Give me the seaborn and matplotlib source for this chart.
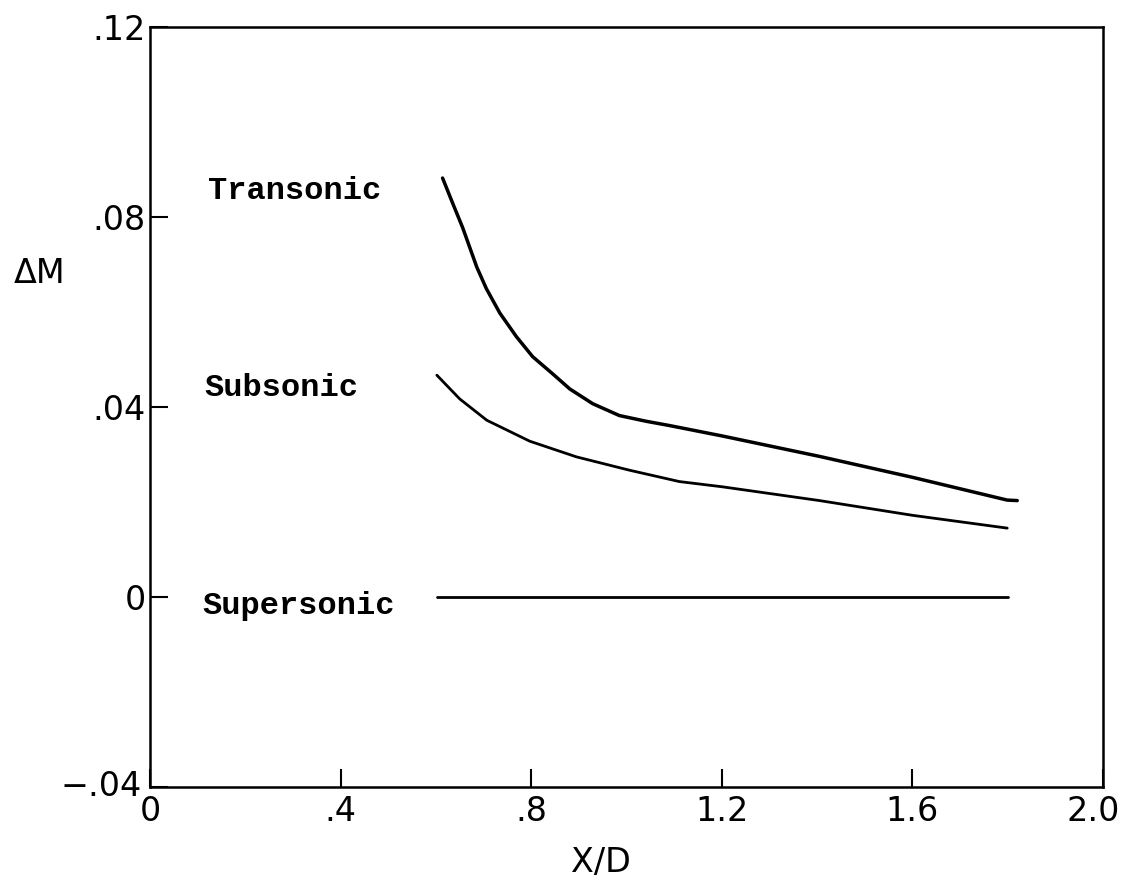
import numpy as np
import pandas as pd
import matplotlib
matplotlib.use("Agg")
import matplotlib.pyplot as plt
import matplotlib.transforms as mtransforms
import seaborn as sns

# ---- data ----
transonic_x = [0.614, 0.636, 0.656, 0.671, 0.686, 0.706, 0.734, 0.769, 0.803, 0.846,
               0.881, 0.929, 0.985, 1.041, 1.090, 1.201, 1.405, 1.600, 1.799, 1.82]
transonic_y = [0.0882, 0.0827, 0.0778, 0.0736, 0.0694, 0.0649, 0.0598, 0.0548, 0.0506, 0.0469,
               0.0438, 0.0407, 0.0382, 0.0370, 0.0361, 0.0339, 0.0296, 0.0252, 0.0204, 0.0203]

subsonic_x = [0.602, 0.650, 0.707, 0.797, 0.895, 1.006, 1.111, 1.201, 1.405, 1.600, 1.799]
subsonic_y = [0.0467, 0.0417, 0.0372, 0.0328, 0.0295, 0.0267, 0.0243, 0.0232, 0.0203, 0.0172, 0.0145]

supersonic_x = [0.602, 1.0, 1.4, 1.80]
supersonic_y = [0.0, 0.0, 0.0, 0.0]

series_names = ["Transonic", "Subsonic", "Supersonic"]
label_x = [0.122, 0.115, 0.109]
label_y = [0.0855, 0.0440, -0.0019]

xticks = [0, 0.4, 0.8, 1.2, 1.6, 2.0]
xtick_labels = ["0", ".4", ".8", "1.2", "1.6", "2.0"]
yticks = [-0.04, 0, 0.04, 0.08, 0.12]
ytick_labels = ["\u2212.04", "0", ".04", ".08", ".12"]

df = pd.concat([
    pd.DataFrame({"x": transonic_x, "y": transonic_y, "s": "Transonic"}),
    pd.DataFrame({"x": subsonic_x, "y": subsonic_y, "s": "Subsonic"}),
    pd.DataFrame({"x": supersonic_x, "y": supersonic_y, "s": "Supersonic"}),
], ignore_index=True)

sns.set_theme(style="ticks")
plt.rcParams["font.family"] = ["DejaVu Sans"]
plt.rcParams["text.color"] = "black"
plt.rcParams["axes.labelcolor"] = "black"

L, R, T, B = 150, 1103, 27, 787
fig = plt.figure(figsize=(11.29, 8.81), dpi=100)
ax = fig.add_axes([L/1129, 1-B/881, (R-L)/1129, (B-T)/881])

sns.lineplot(data=df, x="x", y="y", hue="s", palette=["black"]*3,
             legend=False, ax=ax, linewidth=2.0, sort=True, estimator=None)
ax.lines[0].set_linewidth(2.5)

ax.set_xlim(0, 2.0)
ax.set_ylim(-0.04, 0.12)
ax.set_xticks(xticks)
ax.set_xticklabels(xtick_labels)
ax.set_yticks(yticks)
ax.set_yticklabels(ytick_labels)
ax.tick_params(axis="both", direction="in", length=13, width=1.5,
               labelsize=24, colors="black")
ax.tick_params(axis="x", pad=6)
ax.tick_params(axis="y", pad=3)
for sp in ax.spines.values():
    sp.set_visible(True)
    sp.set_linewidth(1.8)
    sp.set_color("black")

# small offsets as in the reference
xl = ax.get_xticklabels()
xl[-1].set_transform(xl[-1].get_transform() + mtransforms.ScaledTranslation(-10/100, 0, fig.dpi_scale_trans))
yl = ax.get_yticklabels()
yl[0].set_transform(yl[0].get_transform() + mtransforms.ScaledTranslation(-4/100, 4/100, fig.dpi_scale_trans))

ax.set_xlabel("X/D", fontsize=24, color="black")
ax.xaxis.set_label_coords((601-L)/(R-L), (B-846)/(B-T))
ax.set_ylabel("\u0394M", fontsize=24, rotation=0, color="black")
ax.yaxis.set_label_coords((40-L)/(R-L), (B-290)/(B-T))

for name, lx, ly in zip(series_names, label_x, label_y):
    ax.text(lx, ly, name, family="Liberation Mono", fontweight="bold",
            fontsize=23, ha="left", va="center", color="black")

fig.savefig("out.png", dpi=100)
